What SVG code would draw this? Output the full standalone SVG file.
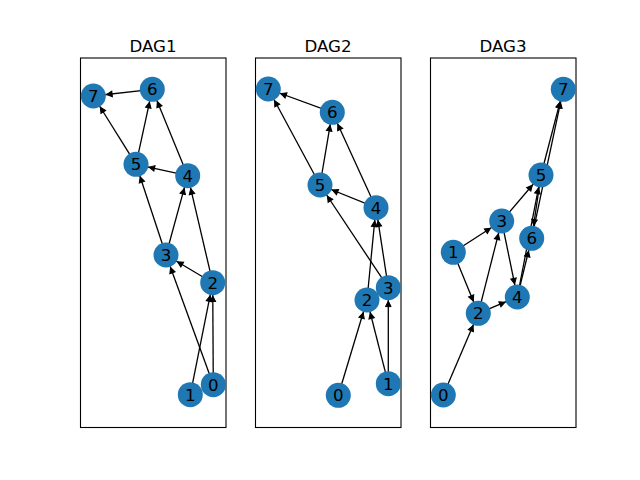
<svg xmlns="http://www.w3.org/2000/svg" width="640" height="480" viewBox="0 0 640 480">
<style>
.frame{fill:none;stroke:#000;stroke-width:1.1}
.title{font-family:"DejaVu Sans",sans-serif;font-size:16.67px;text-anchor:middle;fill:#000}
.e line{stroke:#000;stroke-width:1.3;marker-end:url(#ah)}
.n circle{fill:#1f78b4}
.n text{font-family:"DejaVu Sans",sans-serif;font-size:16.67px;text-anchor:middle;fill:#000}
</style>
<defs>
<marker id="ah" markerUnits="userSpaceOnUse" orient="auto" refX="0" refY="0" markerWidth="1" markerHeight="1" overflow="visible">
<path d="M-13.3,0 L-18.9,-2.8 L-18.9,2.8 Z" fill="#000" stroke="#000" stroke-width="1"/>
</marker>
</defs>
<rect width="640" height="480" fill="#fff"/>
<rect class="frame" x="80.5" y="58" width="145.5" height="369.5"/>
<rect class="frame" x="255.5" y="58" width="145.5" height="369.5"/>
<rect class="frame" x="430.5" y="58" width="145.5" height="369.5"/>
<text class="title" x="153" y="52.3">DAG1</text>
<text class="title" x="328" y="52.3">DAG2</text>
<text class="title" x="503" y="52.3">DAG3</text>
<g id="edges" class="e">
<!-- DAG1 -->
<line x1="152.3" y1="89.3" x2="93.3" y2="96"/>
<line x1="136" y1="164.3" x2="93.3" y2="96"/>
<line x1="136" y1="164.3" x2="152.3" y2="89.3"/>
<line x1="187.7" y1="175.7" x2="152.3" y2="89.3"/>
<line x1="187.7" y1="175.7" x2="136" y2="164.3"/>
<line x1="166" y1="255" x2="136" y2="164.3"/>
<line x1="166" y1="255" x2="187.7" y2="175.7"/>
<line x1="212.7" y1="282.7" x2="187.7" y2="175.7"/>
<line x1="212.7" y1="282.7" x2="166" y2="255"/>
<line x1="190.3" y1="394.7" x2="212.7" y2="282.7"/>
<line x1="213.3" y1="384.7" x2="212.7" y2="282.7"/>
<line x1="213.3" y1="384.7" x2="166" y2="255"/>
<!-- DAG2 -->
<line x1="332.3" y1="112.3" x2="268.3" y2="89"/>
<line x1="320" y1="185" x2="268.3" y2="89"/>
<line x1="320" y1="185" x2="332.3" y2="112.3"/>
<line x1="376" y1="207.7" x2="332.3" y2="112.3"/>
<line x1="376" y1="207.7" x2="320" y2="185"/>
<line x1="388.3" y1="287.7" x2="320" y2="185"/>
<line x1="388.3" y1="287.7" x2="376" y2="207.7"/>
<line x1="367" y1="300" x2="376" y2="207.7"/>
<line x1="388.3" y1="383.7" x2="367" y2="300"/>
<line x1="388.3" y1="383.7" x2="388.3" y2="287.7"/>
<line x1="338.3" y1="395.3" x2="367" y2="300"/>
<!-- DAG3 -->
<line x1="443.3" y1="395" x2="478.3" y2="313.3"/>
<line x1="453.3" y1="252.3" x2="478.3" y2="313.3"/>
<line x1="453.3" y1="252.3" x2="501.7" y2="221"/>
<line x1="478.3" y1="313.3" x2="501.7" y2="221"/>
<line x1="478.3" y1="313.3" x2="517.3" y2="297"/>
<line x1="501.7" y1="221" x2="517.3" y2="297"/>
<line x1="501.7" y1="221" x2="541" y2="175"/>
<line x1="517.3" y1="297" x2="531.7" y2="238.3"/>
<line x1="517.3" y1="297" x2="541" y2="175"/>
<line x1="541" y1="175" x2="531.7" y2="238.3"/>
<line x1="541" y1="175" x2="563.3" y2="89.3"/>
<line x1="531.7" y1="238.3" x2="563.3" y2="89.3"/>
</g>
<!-- DAG1 nodes -->
<g id="g1n0" class="n"><circle cx="213.3" cy="384.7" r="12.5"/><text x="213.3" y="390.7">0</text></g>
<g id="g1n1" class="n"><circle cx="190.3" cy="394.7" r="12.5"/><text x="190.3" y="400.7">1</text></g>
<g id="g1n2" class="n"><circle cx="212.7" cy="282.7" r="12.5"/><text x="212.7" y="288.7">2</text></g>
<g id="g1n3" class="n"><circle cx="166" cy="255" r="12.5"/><text x="166" y="261">3</text></g>
<g id="g1n4" class="n"><circle cx="187.7" cy="175.7" r="12.5"/><text x="187.7" y="181.7">4</text></g>
<g id="g1n5" class="n"><circle cx="136" cy="164.3" r="12.5"/><text x="136" y="170.3">5</text></g>
<g id="g1n6" class="n"><circle cx="152.3" cy="89.3" r="12.5"/><text x="152.3" y="95.3">6</text></g>
<g id="g1n7" class="n"><circle cx="93.3" cy="96" r="12.5"/><text x="93.3" y="102">7</text></g>
<!-- DAG2 nodes -->
<g id="g2n0" class="n"><circle cx="338.3" cy="395.3" r="12.5"/><text x="338.3" y="401.3">0</text></g>
<g id="g2n1" class="n"><circle cx="388.3" cy="383.7" r="12.5"/><text x="388.3" y="389.7">1</text></g>
<g id="g2n2" class="n"><circle cx="367" cy="300" r="12.5"/><text x="367" y="306">2</text></g>
<g id="g2n3" class="n"><circle cx="388.3" cy="287.7" r="12.5"/><text x="388.3" y="293.7">3</text></g>
<g id="g2n4" class="n"><circle cx="376" cy="207.7" r="12.5"/><text x="376" y="213.7">4</text></g>
<g id="g2n5" class="n"><circle cx="320" cy="185" r="12.5"/><text x="320" y="191">5</text></g>
<g id="g2n6" class="n"><circle cx="332.3" cy="112.3" r="12.5"/><text x="332.3" y="118.3">6</text></g>
<g id="g2n7" class="n"><circle cx="268.3" cy="89" r="12.5"/><text x="268.3" y="95">7</text></g>
<!-- DAG3 nodes -->
<g id="g3n0" class="n"><circle cx="443.3" cy="395" r="12.5"/><text x="443.3" y="401">0</text></g>
<g id="g3n1" class="n"><circle cx="453.3" cy="252.3" r="12.5"/><text x="453.3" y="258.3">1</text></g>
<g id="g3n2" class="n"><circle cx="478.3" cy="313.3" r="12.5"/><text x="478.3" y="319.3">2</text></g>
<g id="g3n3" class="n"><circle cx="501.7" cy="221" r="12.5"/><text x="501.7" y="227">3</text></g>
<g id="g3n4" class="n"><circle cx="517.3" cy="297" r="12.5"/><text x="517.3" y="303">4</text></g>
<g id="g3n5" class="n"><circle cx="541" cy="175" r="12.5"/><text x="541" y="181">5</text></g>
<g id="g3n6" class="n"><circle cx="531.7" cy="238.3" r="12.5"/><text x="531.7" y="244.3">6</text></g>
<g id="g3n7" class="n"><circle cx="563.3" cy="89.3" r="12.5"/><text x="563.3" y="95.3">7</text></g>
</svg>
